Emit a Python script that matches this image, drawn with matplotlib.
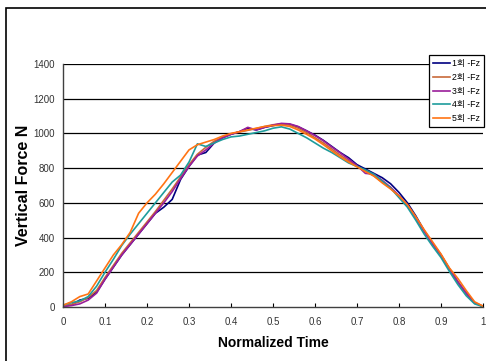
import numpy as np
import matplotlib
matplotlib.use("Agg")
import matplotlib.pyplot as plt
from matplotlib.patches import Rectangle

plt.rcParams['font.family'] = ['Liberation Sans Narrow', 'Liberation Sans', 'Noto Sans CJK KR', 'DejaVu Sans']

time = np.linspace(0, 1, 51)

labels = ["1회 -Fz", "2회 -Fz", "3회 -Fz", "4회 -Fz", "5회 -Fz"]
colors = ["#000080", "#C8693A", "#9A1E9A", "#1E9C9C", "#FF7414"]

trial1 = [5, 12, 40, 50, 85, 160, 230, 300, 360, 420, 480, 540, 575, 620, 735, 810, 875, 890, 945, 975,
          995, 1010, 1030, 1020, 1035, 1045, 1055, 1052, 1038, 1015, 990, 960, 925, 890, 860, 820, 795, 770,
          745, 710, 660, 600, 525, 440, 365, 300, 220, 145, 80, 25, 3]
trial2 = [5, 15, 30, 55, 95, 170, 240, 310, 370, 430, 490, 550, 615, 680, 750, 820, 880, 920, 955, 978,
          998, 1008, 1018, 1028, 1040, 1050, 1055, 1048, 1030, 1005, 975, 945, 910, 875, 842, 810, 785, 755,
          720, 685, 640, 585, 515, 440, 370, 300, 220, 145, 80, 25, 3]
trial3 = [3, 8, 18, 40, 80, 160, 230, 300, 360, 420, 480, 540, 600, 665, 740, 810, 870, 905, 945, 975,
          995, 1010, 1035, 1020, 1035, 1048, 1058, 1055, 1040, 1015, 988, 958, 922, 888, 852, 815, 770, 765,
          730, 690, 640, 585, 515, 435, 365, 300, 220, 145, 80, 25, 3]
trial4 = [10, 25, 35, 60, 120, 200, 275, 355, 420, 480, 540, 600, 660, 720, 760, 835, 940, 925, 945, 965,
          980, 985, 995, 1005, 1015, 1030, 1038, 1025, 1000, 975, 945, 915, 890, 860, 830, 810, 790, 765,
          725, 685, 630, 575, 500, 420, 350, 285, 205, 130, 65, 18, 2]
trial5 = [10, 30, 60, 75, 150, 225, 300, 360, 430, 540, 600, 650, 710, 775, 840, 905, 935, 950, 965, 985,
          1000, 1010, 1020, 1030, 1040, 1045, 1048, 1040, 1020, 995, 968, 935, 900, 865, 835, 808, 780, 755,
          715, 680, 640, 590, 520, 445, 375, 305, 225, 165, 95, 30, 5]
series = [trial1, trial2, trial3, trial4, trial5]

yticks = [0, 200, 400, 600, 800, 1000, 1200, 1400]
xticks = [0, 0.1, 0.2, 0.3, 0.4, 0.5, 0.6, 0.7, 0.8, 0.9, 1]
xticklabels = ["0", "0.1", "0.2", "0.3", "0.4", "0.5", "0.6", "0.7", "0.8", "0.9", "1"]

fig = plt.figure(figsize=(4.86, 3.61), dpi=100)
fig.patches.append(Rectangle((6/486, -0.05), 1.1, 1 - 8/361 + 0.05, transform=fig.transFigure,
                             fill=False, edgecolor='black', linewidth=1.2, zorder=0))
ax = fig.add_axes([63/486, 1 - 307/361, 420/486, 243/361])

for y in yticks[1:]:
    ax.axhline(y, color='black', linewidth=0.9, zorder=1)

handles = []
for s, c, lab in zip(series, colors, labels):
    h, = ax.plot(time, s, color=c, linewidth=1.2, label=lab, zorder=2)
    handles.append(h)

ax.set_xlim(0, 1)
ax.set_ylim(0, 1400)
ax.set_xticks(xticks)
ax.set_xticklabels(xticklabels)
ax.set_yticks(yticks)
for sp in ['top', 'right']:
    ax.spines[sp].set_visible(False)
for sp in ['left', 'bottom']:
    ax.spines[sp].set_color('#404040')
    ax.spines[sp].set_linewidth(1.0)
ax.tick_params(axis='x', direction='in', length=3, width=0.8, pad=7, labelsize=7, labelcolor='#333333')
ax.tick_params(axis='y', length=0, pad=6, labelsize=7, labelcolor='#333333')

ax.set_xlabel("Normalized Time", fontsize=10, fontweight='bold', labelpad=7)
ax.set_ylabel("Vertical Force N", fontsize=11.5, fontweight='bold')
ax.yaxis.set_label_coords(-32/420, 0.5)

leg = fig.legend(handles=handles, labels=labels, loc='upper left',
                 bbox_to_anchor=(429/486, 1 - 55/361), fontsize=6.3, frameon=True,
                 fancybox=False, edgecolor='black', framealpha=1, handlelength=1.9,
                 handletextpad=0.25, labelspacing=0.55, borderpad=0.45, borderaxespad=0)
leg.get_frame().set_linewidth(0.9)

fig.savefig("out.png", dpi=100)
